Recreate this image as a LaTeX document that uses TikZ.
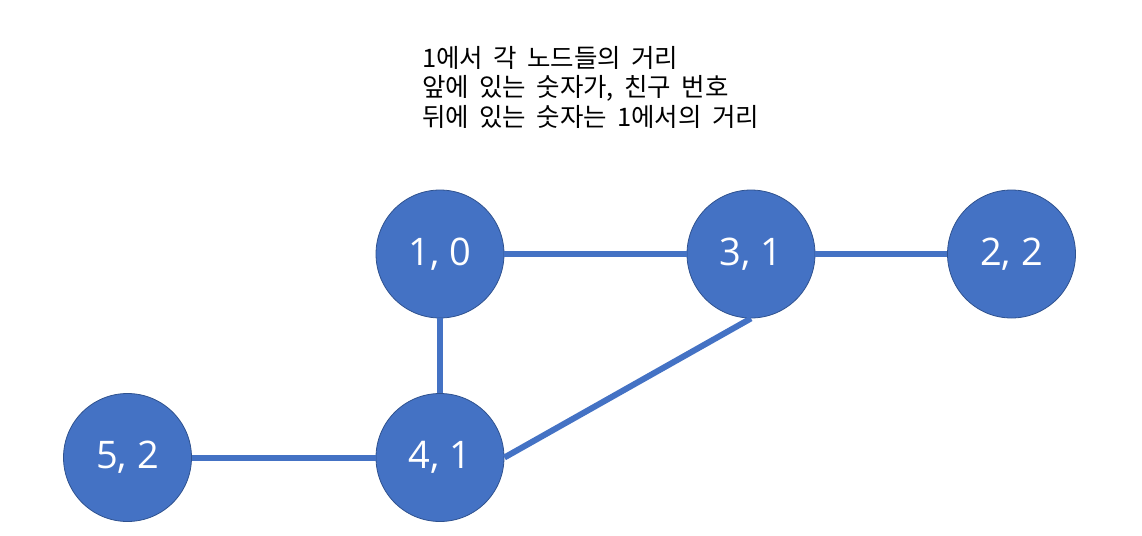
\documentclass[tikz,border=0pt]{standalone}
\usepackage{fontspec}
\setmainfont{Open Sans}
\newfontfamily\kr[WordSpace=1.8]{Noto Sans CJK KR}
\definecolor{nodefill}{HTML}{4472C4}
\definecolor{nodeedge}{HTML}{2F528F}
\begin{document}
\begin{tikzpicture}[x=1pt,y=-1pt,
  vert/.style={circle,fill=nodefill,draw=nodeedge,line width=0.8pt,minimum size=128pt,inner sep=0pt,text=white,font=\fontsize{38}{40}\selectfont},
  edge/.style={draw=nodefill,line width=6pt}]
\useasboundingbox (0,0) rectangle (1142,535);
\node[anchor=base west,align=left,font=\kr\fontsize{25.5}{29.5}\selectfont,inner sep=0pt] (note) at (422,126) {1에서 각 노드들의 거리\\앞에 있는 숫자가, 친구 번호\\뒤에 있는 숫자는 1에서의 거리};
\node[vert] (n1) at (440,254) {1, 0};
\node[vert] (n3) at (751,254) {3, 1};
\node[vert] (n2) at (1011.5,254) {2, 2};
\node[vert] (n5) at (127.5,457.5) {5, 2};
\node[vert] (n4) at (440,457.5) {4, 1};
\draw[edge] (n1.east) -- (n3.west);
\draw[edge] (n3.east) -- (n2.west);
\draw[edge] (n1.south) -- (n4.north);
\draw[edge] (n5.east) -- (n4.west);
\draw[edge] (n3.south) -- (n4.east);
\end{tikzpicture}
\end{document}
